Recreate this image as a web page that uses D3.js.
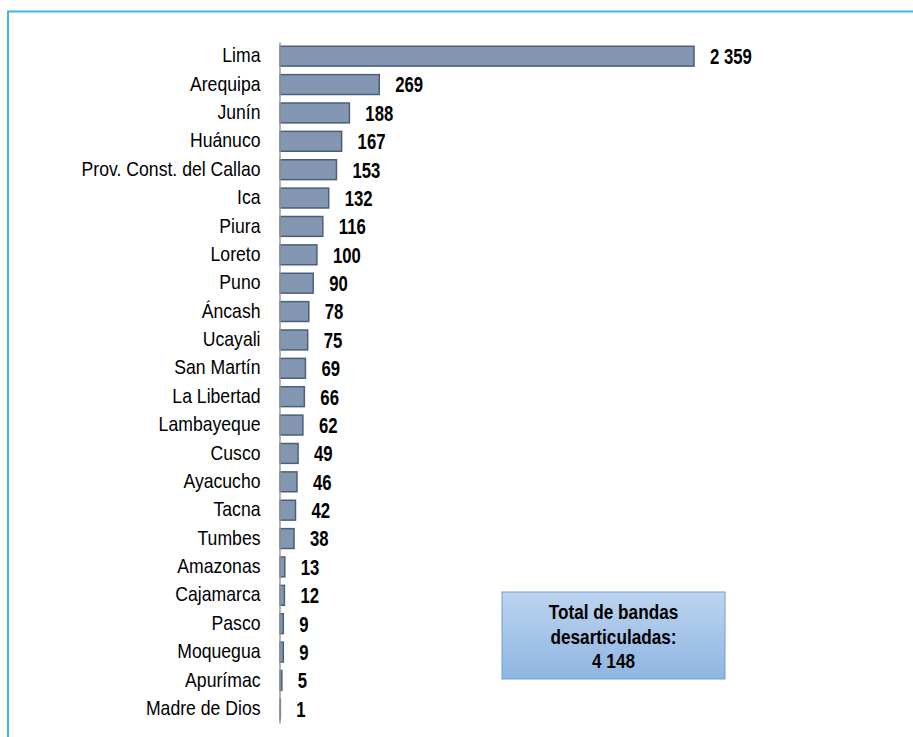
<!DOCTYPE html>
<html>
<head>
<meta charset="utf-8">
<script src="https://cdn.jsdelivr.net/npm/d3@7"></script>
<style>
  body { margin: 0; background: #fff; }
  text { font-family: "Liberation Sans", Arial, sans-serif; }
</style>
</head>
<body>
<div class="chart"></div>
<script>
var svgWidth = 913;
var svgHeight = 737;

// data
var regions = ["Lima", "Arequipa", "Junín", "Huánuco", "Prov. Const. del Callao", "Ica", "Piura",
  "Loreto", "Puno", "Áncash", "Ucayali", "San Martín", "La Libertad", "Lambayeque", "Cusco",
  "Ayacucho", "Tacna", "Tumbes", "Amazonas", "Cajamarca", "Pasco", "Moquegua", "Apurímac", "Madre de Dios"];
var bandas = [2359, 269, 188, 167, 153, 132, 116, 100, 90, 78, 75, 69, 66, 62, 49, 46, 42, 38, 13, 12, 9, 9, 5, 1];
var valueLabels = ["2 359", "269", "188", "167", "153", "132", "116", "100", "90", "78", "75", "69", "66",
  "62", "49", "46", "42", "38", "13", "12", "9", "9", "5", "1"];
var totalLines = ["Total de bandas", "desarticuladas:", "4 148"];

var data = regions.map(function(r, i) {
  return { region: r, value: bandas[i], label: valueLabels[i] };
});

// narrow look of the original font
var labelSX = 0.86;
var valueSX = 0.76;

var svg = d3.select(".chart")
  .append("svg")
  .attr("width", svgWidth)
  .attr("height", svgHeight);

var defs = svg.append("defs");
var grad = defs.append("linearGradient")
  .attr("id", "boxGrad")
  .attr("x1", 0).attr("y1", 0).attr("x2", 0).attr("y2", 1);
grad.append("stop").attr("offset", "0%").attr("stop-color", "#bdd4ef");
grad.append("stop").attr("offset", "100%").attr("stop-color", "#8eb5e2");

// outer frame
svg.append("rect")
  .attr("x", 8)
  .attr("y", 11.5)
  .attr("width", 930)
  .attr("height", 760)
  .attr("fill", "none")
  .attr("stroke", "#3cb6e6")
  .attr("stroke-width", 2);

// scales (Lima bar is cut at the plot edge, so clamp)
var xScale = d3.scaleLinear()
  .domain([0, 1122])
  .range([280, 694])
  .clamp(true);

var yScale = d3.scaleBand()
  .domain(regions)
  .range([42, 723])
  .paddingInner(0.3)
  .paddingOuter(0.15);

// bars
svg.selectAll("rect.bar")
  .data(data)
  .enter()
  .append("rect")
  .attr("class", "bar")
  .attr("x", xScale(0))
  .attr("y", d => yScale(d.region))
  .attr("width", d => xScale(d.value) - xScale(0))
  .attr("height", yScale.bandwidth())
  .attr("fill", "#8397b2")
  .attr("stroke", "#4b5e7c")
  .attr("stroke-width", 1.5);

// axis line + category labels
var leftAxis = d3.axisLeft(yScale).tickSize(0).tickPadding(0);
var yAxis = svg.append("g")
  .attr("transform", `translate(${xScale(0) - 0.5}, 0)`)
  .call(leftAxis);
yAxis.select(".domain").attr("stroke", "#9a9a9a").attr("stroke-width", 1.5);
yAxis.selectAll("text")
  .attr("x", -19 / labelSX)
  .attr("dy", "0.30em")
  .attr("transform", `scale(${labelSX},1)`)
  .attr("font-size", 20.5)
  .attr("fill", "#000")
  .style("font-family", "'Liberation Sans', Arial, sans-serif");

// value labels
svg.selectAll("text.val")
  .data(data)
  .enter()
  .append("text")
  .attr("class", "val")
  .attr("transform", d => `translate(${xScale(d.value) + 16}, ${yScale(d.region) + yScale.bandwidth() / 2}) scale(${valueSX},1)`)
  .attr("dy", "0.36em")
  .attr("font-size", 22)
  .attr("font-weight", "bold")
  .attr("fill", "#000")
  .text(d => d.label);

// total box
var box = svg.append("g").attr("transform", "translate(502, 592)");
box.append("rect")
  .attr("width", 223)
  .attr("height", 87)
  .attr("fill", "url(#boxGrad)")
  .attr("stroke", "#6f9fd8")
  .attr("stroke-width", 1);
box.selectAll("text")
  .data(totalLines)
  .enter()
  .append("text")
  .attr("transform", (d, i) => `translate(111.5, ${27 + i * 24.5}) scale(${labelSX},1)`)
  .attr("text-anchor", "middle")
  .attr("font-size", 20)
  .attr("font-weight", "bold")
  .attr("fill", "#000")
  .text(d => d);
</script>
</body>
</html>
